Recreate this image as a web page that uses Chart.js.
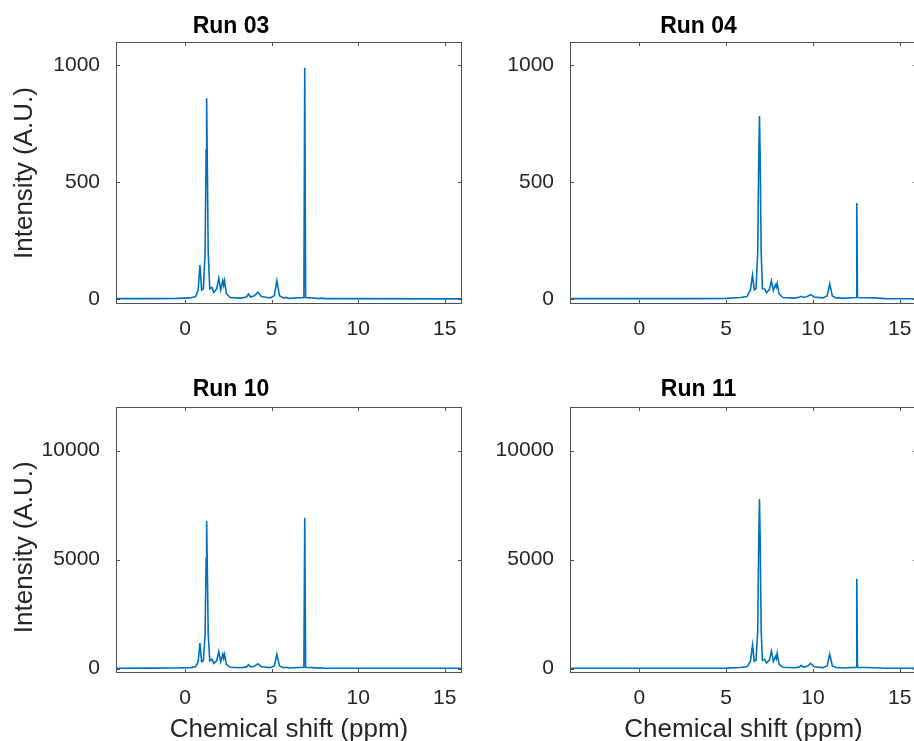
<!DOCTYPE html>
<html>
<head>
<meta charset="utf-8">
<script src="https://cdn.jsdelivr.net/npm/chart.js@4.4.0/dist/chart.umd.min.js"></script>
<style>
  html, body { margin: 0; padding: 0; background: #fff; overflow: hidden; }
  body { width: 914px; height: 741px; position: relative; }
  canvas { position: absolute; }
</style>
</head>
<body>
<canvas id="run03" width="480" height="360" style="left:0px;top:0px"></canvas>
<canvas id="run04" width="440" height="360" style="left:480px;top:0px"></canvas>
<canvas id="run10" width="480" height="385" style="left:0px;top:360px"></canvas>
<canvas id="run11" width="440" height="385" style="left:480px;top:360px"></canvas>
<script>
// spectra: chemical shift (ppm) and intensity (A.U.)
var ppmLeft = [-4.0, -2.0, -0.5, 0.3, 0.6, 0.75, 0.85, 0.95, 1.05, 1.15, 1.21, 1.24, 1.27, 1.33, 1.42,
  1.55, 1.65, 1.82, 1.94, 2.05, 2.17, 2.22, 2.27, 2.38, 2.6, 3.2, 3.55, 3.66, 3.78, 4.0,
  4.2, 4.4, 4.9, 5.15, 5.3, 5.45, 5.7, 5.85, 6.0, 6.86, 6.91, 6.96, 7.8, 7.88, 7.96, 8.5, 16.0];
var run03 = [3, 3, 4, 6, 12, 40, 147, 40, 45, 200, 640, 860, 640, 200, 45,
  51, 30, 45, 91, 40, 80, 60, 80, 25, 8, 5, 10, 23, 10, 15,
  30, 12, 6, 15, 80, 15, 5, 8, 4, 8, 990, 8, 3, 7, 3, 3, 2];
var run10 = [20, 25, 30, 45, 90, 320, 1168, 320, 360, 1600, 5050, 6770, 5050, 1600, 360,
  430, 240, 360, 780, 320, 660, 480, 660, 200, 60, 40, 80, 180, 80, 110,
  226, 90, 45, 120, 660, 120, 40, 60, 30, 60, 6920, 60, 25, 50, 25, 20, 15];

var ppmRight = [-4.0, -2.0, 3.0, 5.0, 5.8, 6.2, 6.4, 6.52, 6.62, 6.72, 6.82, 6.88, 6.92, 6.96, 7.02,
  7.09, 7.22, 7.32, 7.49, 7.61, 7.72, 7.84, 7.89, 7.94, 8.05, 8.27, 8.9, 9.22, 9.33, 9.45,
  9.67, 9.87, 10.07, 10.57, 10.82, 10.97, 11.12, 11.37, 11.52, 11.67, 12.49, 12.53, 12.57, 13.55, 14.2, 17.0];
var run04 = [3, 3, 3, 4, 8, 12, 40, 104, 40, 45, 200, 610, 784, 610, 200,
  45, 44, 28, 42, 80, 38, 62, 52, 68, 24, 8, 5, 9, 13, 8,
  12, 20, 10, 6, 14, 66, 14, 5, 7, 4, 8, 412, 8, 6, 3, 2];
var run11 = [15, 15, 18, 25, 50, 90, 330, 1075, 330, 380, 1700, 6000, 7784, 6000, 1700,
  380, 430, 260, 380, 810, 330, 560, 450, 705, 200, 60, 40, 70, 150, 70,
  110, 245, 90, 45, 120, 660, 120, 40, 55, 30, 60, 4123, 60, 40, 20, 15];

var xTicks = [0, 5, 10, 15];
var yTicksSmall = [0, 500, 1000];
var yTicksLarge = [0, 5000, 10000];

var FONT = "Arial, 'Liberation Sans', Helvetica, sans-serif";

// matlab style box with inward ticks on all four sides
var boxPlugin = {
  id: 'matlabBox',
  afterDatasetsDraw: function (chart) {
    var ctx = chart.ctx, a = chart.chartArea;
    var xs = chart.scales.x, ys = chart.scales.y;
    ctx.save();
    ctx.strokeStyle = '#505050';
    ctx.lineWidth = 1;
    ctx.strokeRect(a.left + 0.5, a.top + 0.5, a.right - a.left - 1, a.bottom - a.top - 1);
    ctx.beginPath();
    xs.ticks.forEach(function (t) {
      var px = Math.round(xs.getPixelForValue(t.value)) + 0.5;
      ctx.moveTo(px, a.bottom); ctx.lineTo(px, a.bottom - 4);
      ctx.moveTo(px, a.top); ctx.lineTo(px, a.top + 4);
    });
    ys.ticks.forEach(function (t) {
      var py = Math.round(ys.getPixelForValue(t.value)) + 0.5;
      ctx.moveTo(a.left, py); ctx.lineTo(a.left + 4, py);
      ctx.moveTo(a.right, py); ctx.lineTo(a.right - 4, py);
    });
    ctx.stroke();
    ctx.restore();
  }
};

function makeRun(id, title, ppm, values, yMin, yMax, yTicks, o) {
  var pts = ppm.map(function (p, i) { return {x: p, y: values[i]}; });
  return new Chart(document.getElementById(id), {
    type: 'line',
    data: {
      datasets: [{
        data: pts,
        borderColor: '#0072BD',
        borderWidth: 1.6,
        pointRadius: 0,
        tension: 0
      }]
    },
    options: {
      responsive: false,
      animation: false,
      layout: {padding: {left: 0, right: o.padRight, top: 0, bottom: 0}},
      plugins: {
        legend: {display: false},
        tooltip: {enabled: false},
        title: {
          display: true,
          text: title,
          color: '#000',
          font: {family: FONT, size: 23, weight: 'bold'},
          padding: {top: o.titleTop, bottom: o.titleBottom}
        }
      },
      scales: {
        x: {
          type: 'linear',
          min: -4,
          max: 16,
          grid: {display: false},
          border: {display: false},
          afterBuildTicks: function (s) { s.ticks = xTicks.map(function (v) { return {value: v}; }); },
          afterFit: function (s) {
            s.height = o.xHeight;
            s.paddingLeft = 0;
            s.paddingRight = 0;
          },
          ticks: {color: '#262626', font: {family: FONT, size: 21}, padding: 5, maxRotation: 0, autoSkip: false},
          title: {
            display: o.xTitle,
            text: 'Chemical shift (ppm)',
            color: '#262626',
            font: {family: FONT, size: 26},
            padding: {top: 0, bottom: 0}
          }
        },
        y: {
          type: 'linear',
          min: yMin,
          max: yMax,
          grid: {display: false},
          border: {display: false},
          afterBuildTicks: function (s) { s.ticks = yTicks.map(function (v) { return {value: v}; }); },
          afterFit: function (s) { s.width = o.yWidth; },
          ticks: {
            color: '#262626',
            font: {family: FONT, size: 21},
            padding: 8,
            autoSkip: false,
            callback: function (v) { return String(v); }
          },
          title: {
            display: o.yTitle,
            text: o.yText || 'Intensity (A.U.)',
            color: '#262626',
            font: {family: FONT, size: 26},
            padding: {top: 9, bottom: 0}
          }
        }
      }
    },
    plugins: [boxPlugin]
  });
}

makeRun('run03', 'Run 03', ppmLeft, run03, -20, 1100, yTicksSmall,
  {padRight: 18, yWidth: 116, xHeight: 56, titleTop: 12.5, titleBottom: 1.9, xTitle: false, yTitle: true});
makeRun('run04', 'Run 04', ppmRight, run04, -20, 1100, yTicksSmall,
  {padRight: 3, yWidth: 90, xHeight: 56, titleTop: 12.5, titleBottom: 1.9, xTitle: false, yTitle: false});
makeRun('run10', 'Run 10', ppmLeft, run10, -200, 12000, yTicksLarge,
  {padRight: 18, yWidth: 116, xHeight: 72, titleTop: 15.7, titleBottom: 3.7, xTitle: true, yTitle: true,
   yText: 'Intensity (A.U.)  '});
makeRun('run11', 'Run 11', ppmRight, run11, -200, 12000, yTicksLarge,
  {padRight: 3, yWidth: 90, xHeight: 72, titleTop: 15.7, titleBottom: 3.7, xTitle: true, yTitle: false});
</script>
</body>
</html>
